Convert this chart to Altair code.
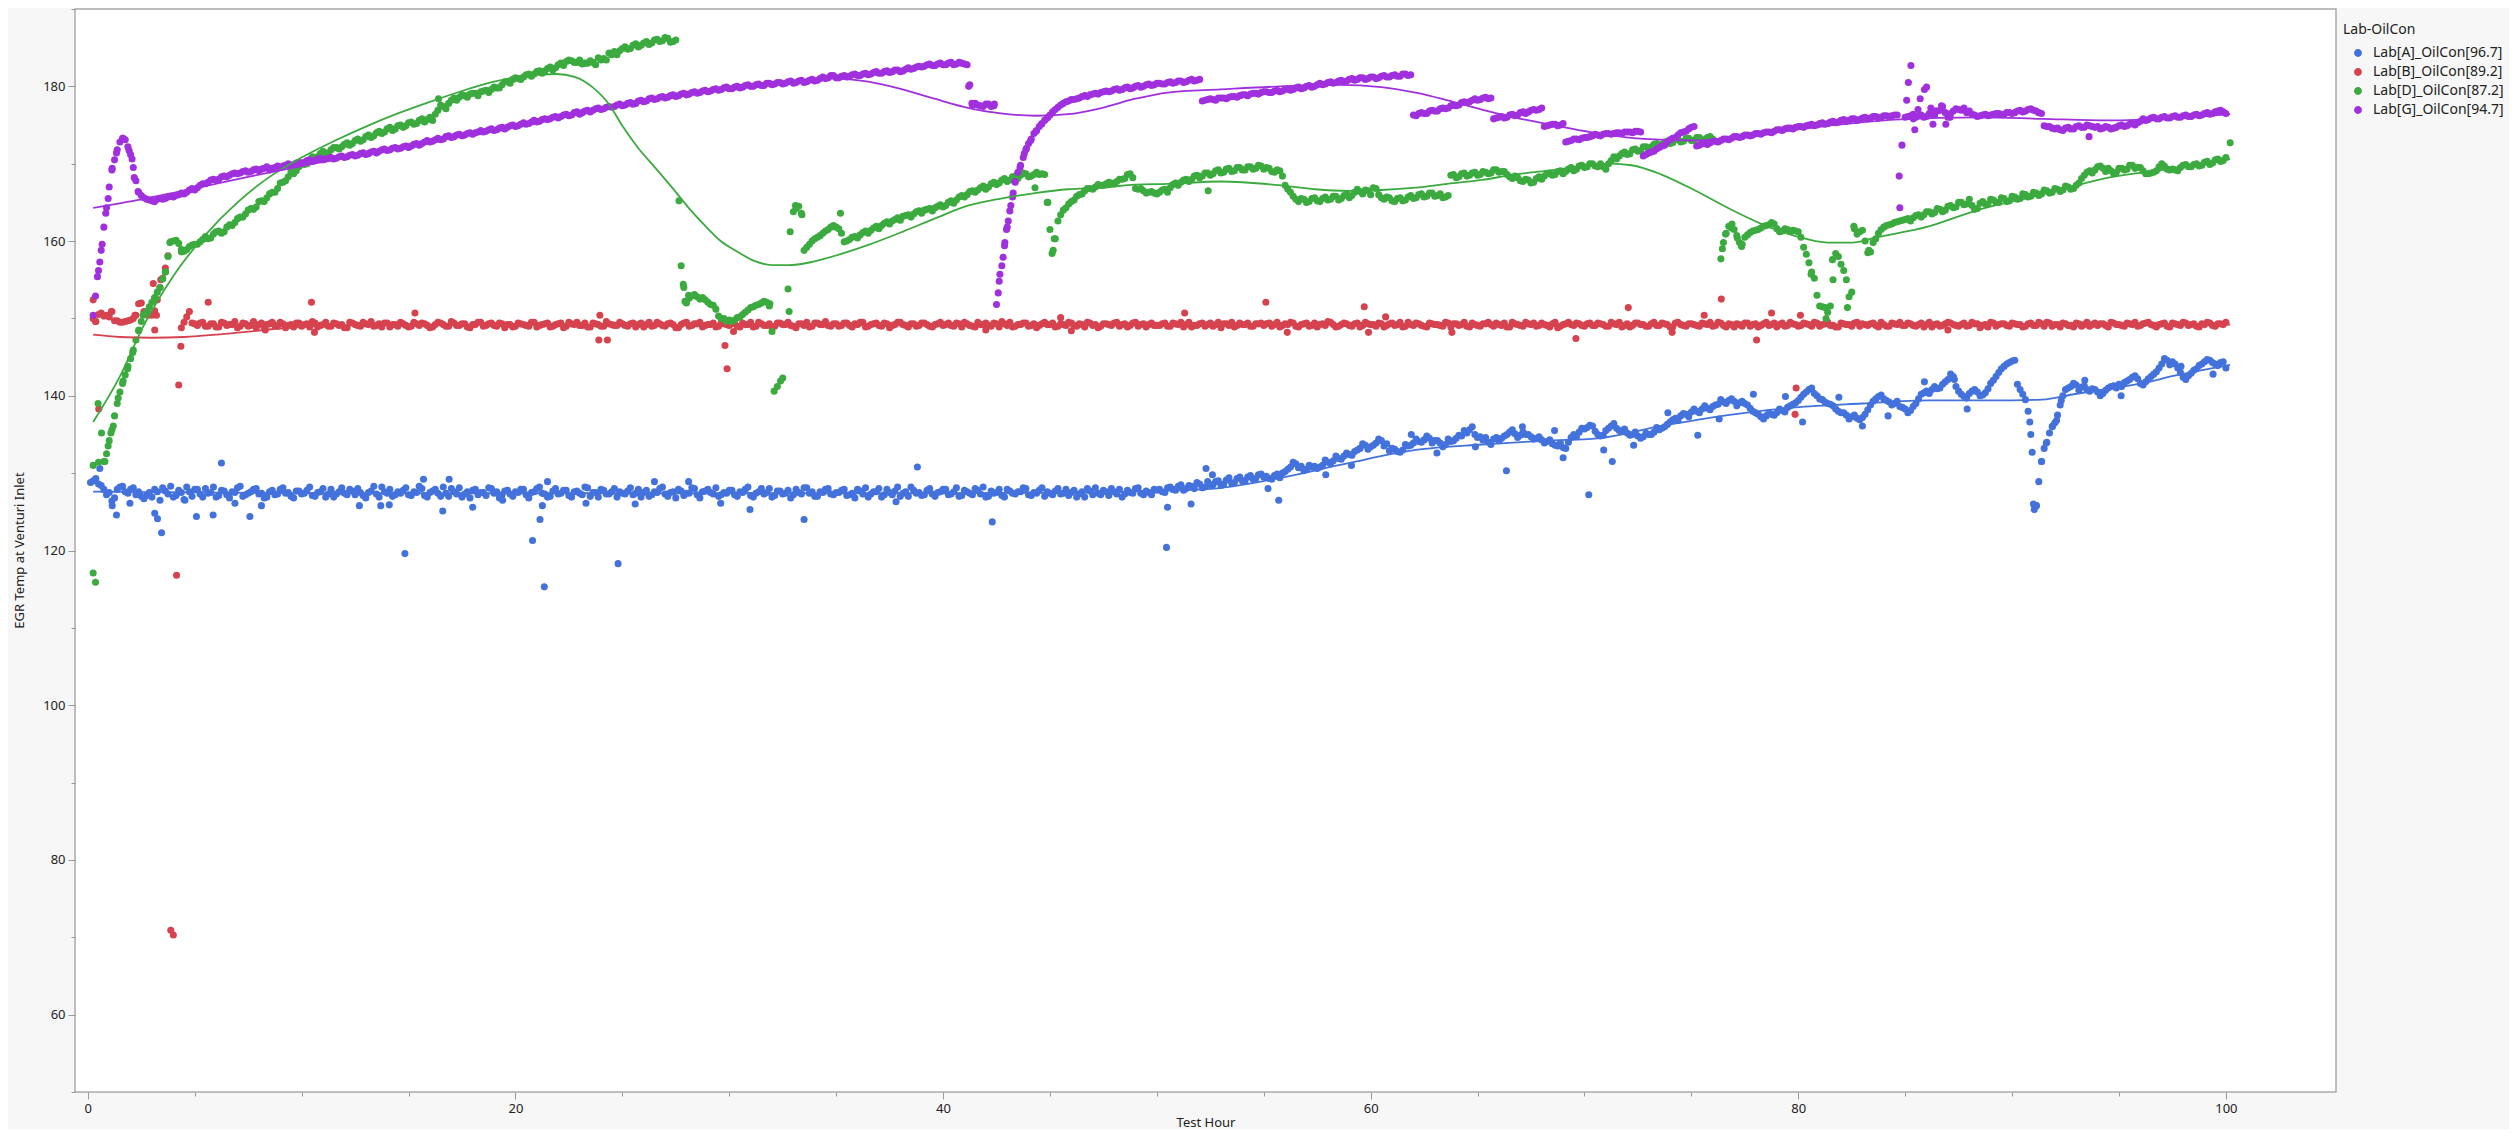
import altair as alt
import pandas as pd

LABELS = ["Lab[A]_OilCon[96.7]", "Lab[B]_OilCon[89.2]", "Lab[D]_OilCon[87.2]", "Lab[G]_OilCon[94.7]"]
COLORS = ["#4472DC", "#D6434F", "#3BAA3F", "#A030DE"]

# sample times of the readings (quarter hours, plus the readings in between)
HOURS = [round(0.25 * (i + 1), 3) for i in range(400)]
HOURS_MID = [round(h - 0.125, 3) for h in HOURS]

# ---------------- Lab A (blue) ----------------
A_VALUES = [
    129.0, 128.6, 127.9, 127.5, 126.8, 128.2, 127.6, 127.9, 127.2, 127.0, 127.1, 126.9, 127.6, 128.1, 127.3, 126.9, 127.8, 126.6, 127.6, 127.9,
    127.3, 128.0, 127.5, 126.9, 127.8, 127.2, 127.6, 128.1, 127.0, 127.4, 127.9, 127.3, 126.8, 127.6, 127.2, 127.9, 127.4, 127.0, 127.7, 127.3,
    127.8, 127.1, 127.5, 128.0, 127.3, 126.9, 127.6, 127.4, 127.9, 127.2, 127.5, 126.8, 127.7, 127.3, 128.2, 127.4, 127.0, 127.6, 127.8, 127.2,
    127.6, 128.3, 127.1, 127.5, 127.9, 127.0, 127.4, 128.0, 127.3, 126.9, 127.6, 127.8, 127.2, 127.5, 128.1, 127.4, 126.8, 127.7, 127.3, 127.6,
    127.9, 127.2, 127.5, 128.0, 127.4, 126.9, 127.7, 127.3, 127.8, 127.1, 127.6, 127.4, 128.2, 127.0, 127.5, 127.9, 127.3, 127.6, 126.9, 127.4,
    127.7, 127.2, 127.9, 127.5, 127.0, 127.6, 128.0, 127.3, 127.5, 126.8, 127.7, 127.4, 128.1, 127.2, 127.6, 127.9, 127.3, 127.0, 127.5, 127.8,
    127.2, 127.6, 127.9, 127.1, 127.4, 128.0, 127.5, 126.9, 127.7, 127.3, 127.8, 127.2, 127.5, 128.1, 127.4, 127.0, 127.6, 127.9, 127.3, 127.5,
    127.8, 127.1, 127.4, 127.9, 127.3, 126.9, 127.6, 128.0, 127.2, 127.5, 127.7, 127.0, 127.6, 128.2, 127.4, 127.1, 127.8, 127.3, 127.5, 127.9,
    127.2, 127.6, 127.0, 127.8, 127.4, 128.0, 127.3, 126.9, 127.7, 127.5, 127.1, 127.9, 127.4, 127.6, 128.1, 127.2, 127.5, 127.8, 127.0, 127.4,
    127.7, 127.3, 127.9, 127.5, 126.9, 127.6, 128.0, 127.2, 127.4, 127.8, 127.1, 127.6, 127.9, 127.3, 127.5, 128.0, 127.4, 127.7, 127.2, 127.8,
    127.6, 128.1, 127.9, 128.3, 127.8, 128.4, 128.0, 128.6, 128.2, 128.5, 128.9, 128.4, 129.1, 128.7, 129.3, 129.0, 129.5, 129.2, 129.8, 129.5,
    129.3, 129.7, 129.4, 130.2, 130.8, 131.2, 130.9, 130.5, 130.8, 130.6, 131.0, 131.4, 131.6, 131.9, 132.2, 132.4, 132.8, 133.2, 133.6, 133.4,
    133.9, 134.2, 133.8, 133.2, 132.8, 133.0, 133.5, 133.9, 134.1, 134.3, 134.5, 134.2, 133.9, 133.7, 134.1, 134.5, 134.8, 135.2, 136.0, 134.6,
    134.3, 134.0, 134.4, 134.2, 134.8, 135.3, 135.1, 134.9, 135.0, 134.7, 134.5, 134.3, 134.1, 133.8, 133.5, 133.3, 134.0, 135.0, 135.3, 135.7,
    136.2, 135.4, 134.8, 135.5, 136.1, 135.8, 135.5, 135.2, 135.0, 134.8, 134.7, 135.0, 135.3, 135.6, 136.0, 136.6, 137.1, 137.4, 137.6, 137.9,
    138.0, 138.3, 138.4, 138.6, 138.9, 139.2, 139.4, 139.3, 139.1, 139.0, 138.4, 137.8, 137.3, 137.4, 137.6, 137.8, 138.1, 138.5, 138.9, 139.4,
    140.2, 140.8, 140.3, 139.6, 139.2, 138.9, 138.3, 137.8, 137.5, 137.3, 137.1, 137.2, 138.2, 139.3, 139.9, 139.6, 139.2, 139.0, 138.6, 138.3,
    138.1, 139.0, 140.2, 140.6, 140.8, 140.9, 141.5, 142.1, 142.5, 140.6, 139.9, 140.3, 140.8, 140.0, 140.4, 141.6, 142.5, 143.5, 144.1, 144.5,
    141.5, 140.2, 138.0, 126.0, 128.9, 133.2, 135.2, 136.5, 138.8, 140.8, 141.2, 141.4, 141.1, 140.8, 140.9, 140.5, 140.3, 141.0, 141.3, 141.5,
    141.7, 142.1, 142.6, 141.6, 141.8, 142.5, 143.1, 144.1, 144.6, 144.4, 143.6, 142.4, 142.6, 143.3, 143.9, 144.4, 144.6, 144.1, 144.3, 143.6,
]
A_VALUES_MID = [
    128.8, 129.3, 128.4, 127.2, 126.4, 127.9, 128.3, 127.4, 128.1, 127.6, 126.7, 127.5, 127.9, 126.5, 127.7, 128.3, 127.1, 127.5, 128.2, 127.0,
    127.9, 126.9, 127.4, 128.2, 127.1, 127.7, 126.8, 127.5, 128.3, 127.2, 127.6, 128.0, 127.4, 126.9, 127.8, 127.3, 128.1, 127.5, 126.8, 127.7,
    127.4, 128.2, 127.0, 127.6, 126.9, 127.9, 127.3, 128.1, 127.2, 127.7, 128.0, 127.1, 127.5, 128.3, 126.9, 127.6, 127.9, 127.2, 127.4, 128.1,
    127.1, 127.5, 128.0, 126.9, 127.7, 127.4, 128.2, 127.0, 127.6, 128.1, 127.3, 126.8, 127.9, 127.5, 127.1, 128.0, 127.6, 127.2, 127.8, 127.0,
    127.5, 127.9, 126.8, 127.6, 128.2, 127.3, 127.0, 128.0, 127.4, 127.8, 126.9, 127.7, 127.2, 128.1, 127.5, 126.9, 127.8, 127.3, 128.0, 127.6,
    127.3, 128.1, 127.4, 126.9, 127.8, 127.2, 127.5, 128.2, 127.0, 127.6, 127.9, 127.1, 127.4, 128.0, 126.8, 127.7, 127.5, 128.1, 127.2, 127.4,
    127.8, 127.0, 127.5, 128.2, 126.9, 127.6, 127.3, 128.0, 127.1, 127.7, 127.4, 126.8, 127.9, 127.3, 128.1, 127.6, 127.0, 127.5, 128.0, 127.2,
    127.5, 127.9, 127.2, 126.8, 127.7, 128.1, 127.3, 127.6, 126.9, 127.9, 127.2, 128.2, 127.4, 127.0, 127.8, 127.5, 127.2, 128.0, 127.0, 127.6,
    127.9, 127.3, 128.1, 127.1, 127.6, 127.2, 127.8, 128.2, 127.0, 127.4, 127.9, 126.9, 127.7, 127.3, 127.6, 128.0, 127.1, 127.4, 128.1, 127.6,
    127.2, 128.0, 127.4, 127.1, 127.8, 127.3, 126.9, 127.7, 128.1, 127.2, 127.6, 128.0, 127.3, 126.9, 127.8, 127.4, 128.1, 127.2, 127.5, 127.9,
    127.9, 127.5, 128.2, 127.8, 128.5, 128.0, 128.3, 128.8, 128.1, 128.9, 128.5, 129.0, 128.6, 129.4, 128.8, 129.5, 129.0, 129.7, 129.3, 129.9,
    129.6, 129.2, 129.9, 130.0, 130.5, 131.4, 130.7, 130.3, 131.0, 130.9, 130.8, 131.7, 131.2, 132.2, 131.8, 132.6, 132.3, 133.0, 133.8, 133.1,
    133.6, 134.4, 133.5, 132.9, 133.1, 132.7, 133.7, 133.6, 134.4, 134.0, 134.8, 133.9, 134.2, 133.4, 134.4, 134.2, 134.9, 135.5, 135.6, 135.0,
    134.7, 134.6, 133.7, 134.6, 134.5, 135.0, 135.6, 134.6, 135.3, 135.0, 134.4, 134.7, 133.9, 134.3, 133.6, 133.9, 133.2, 134.6, 134.7, 135.8,
    135.9, 136.1, 135.0, 134.9, 135.8, 136.4, 135.5, 135.7, 134.9, 135.3, 134.5, 135.2, 135.0, 135.9, 135.8, 136.3, 136.9, 136.8, 137.7, 137.3,
    138.3, 137.8, 138.7, 138.2, 138.8, 139.5, 139.0, 139.6, 138.7, 139.3, 138.8, 138.0, 137.6, 137.0, 137.8, 137.5, 138.3, 137.9, 138.7, 139.1,
    139.8, 140.5, 141.0, 140.0, 139.5, 139.0, 138.7, 138.0, 137.8, 137.0, 137.5, 136.9, 137.6, 138.8, 139.6, 140.1, 139.4, 138.8, 139.3, 138.5,
    137.8, 138.6, 139.6, 140.4, 140.3, 141.2, 141.0, 141.8, 142.8, 141.2, 140.2, 139.7, 140.6, 140.5, 140.1, 140.9, 142.0, 143.0, 143.8, 144.3,
    144.6, 140.8, 139.5, 135.0, 125.8, 131.5, 134.0, 136.0, 137.5, 140.0, 141.0, 141.6, 140.7, 141.3, 140.6, 140.8, 140.0, 140.7, 141.2, 141.0,
    141.2, 141.9, 142.4, 142.2, 141.4, 142.2, 142.8, 143.6, 144.8, 144.0, 144.1, 143.0, 142.1, 142.9, 143.5, 144.1, 144.7, 144.3, 143.9, 144.4,
]
A_EXTRA_H = [0.56, 1.14, 1.34, 1.97, 3.13, 3.26, 3.45, 4.54, 5.08, 5.86, 6.25, 6.88, 7.58, 8.12, 12.7, 13.7, 14.1, 14.83, 15.7, 16.6,
             16.9, 18.0, 19.4, 20.8, 21.15, 21.26, 21.35, 21.5, 23.3, 24.8, 25.6, 26.5, 28.1, 29.6, 30.97, 33.5, 37.8, 38.8, 42.3, 50.45,
             50.5, 51.6, 52.3, 52.6, 55.2, 55.7, 57.9, 59.1, 61.9, 63.1, 64.9, 66.35, 67.1, 68.6, 69.0, 70.2, 70.9, 71.3, 72.3, 73.9,
             75.3, 76.3, 77.9, 79.4, 80.2, 81.9, 83.0, 84.2, 85.9, 87.3, 87.9, 90.83, 90.94, 91.04, 91.14, 91.38, 91.6, 91.9, 92.08, 92.3,
             93.4, 95.1, 97.9, 99.4]
A_EXTRA_V = [130.6, 125.8, 124.6, 126.1, 124.8, 124.1, 122.3, 126.5, 124.4, 124.6, 131.3, 126.1, 124.4, 125.8, 125.8, 125.8, 125.9, 119.6, 129.2, 125.1,
             129.2, 125.6, 126.5, 121.3, 124.0, 125.8, 115.3, 128.9, 126.1, 118.3, 126.0, 128.9, 128.9, 126.1, 125.3, 124.0, 126.3, 130.8, 123.7, 120.4,
             125.6, 126.0, 130.6, 129.8, 128.0, 126.5, 129.8, 131.0, 135.0, 132.6, 133.4, 130.3, 136.0, 135.5, 132.0, 127.2, 133.0, 131.5, 133.6, 137.8,
             134.9, 137.0, 140.2, 139.9, 136.6, 139.8, 136.1, 137.4, 141.8, 142.1, 138.3, 136.6, 132.7, 125.3, 125.8, 131.5, 133.9, 136.1, 136.8, 139.4,
             142.0, 140.0, 143.8, 142.8]

# ---------------- Lab B (red) ----------------
B_VALUES = [
    150.0, 150.5, 150.3, 150.2, 149.7, 149.5, 149.6, 149.8, 150.4, 152.0, 150.9, 150.4, 152.4, 155.2, 158.1, 70.3, 141.4, 149.5, 150.9, 149.3,
    149.4, 149.0, 149.3, 148.9, 149.5, 149.1, 149.2, 148.8, 149.4, 149.0, 149.6, 149.2, 148.9, 149.3, 149.1, 149.5, 148.8, 149.2, 149.4, 149.0,
    149.3, 149.6, 148.9, 149.2, 149.0, 149.4, 149.1, 148.8, 149.5, 149.2, 149.0, 149.3, 149.6, 149.1, 148.9, 149.4, 149.2, 149.0, 149.3, 148.9,
    149.5, 149.1, 149.3, 148.8, 149.2, 149.4, 149.0, 149.6, 149.1, 149.3, 148.9, 149.2, 149.5, 149.0, 149.3, 149.1, 149.4, 148.8, 149.2, 149.0,
    149.3, 149.1, 149.5, 148.9, 149.2, 149.4, 149.0, 149.3, 148.8, 149.5, 149.2, 149.1, 149.4, 148.9, 149.3, 149.0, 149.6, 149.2, 149.1, 149.3,
    149.0, 149.4, 149.2, 148.9, 149.5, 149.1, 149.3, 149.0, 149.4, 148.8, 149.2, 149.5, 149.1, 149.3, 148.9, 149.2, 149.4, 149.0, 149.3, 149.1,
    149.4, 148.9, 149.2, 149.5, 149.0, 149.3, 149.1, 148.8, 149.4, 149.2, 149.5, 149.0, 149.3, 149.1, 148.9, 149.4, 149.2, 149.6, 149.0, 149.3,
    149.1, 149.4, 148.9, 149.2, 149.5, 149.0, 149.3, 149.1, 149.4, 148.8, 149.2, 149.5, 149.1, 149.3, 149.0, 149.4, 149.2, 148.9, 149.3, 149.1,
    149.4, 149.0, 149.3, 149.5, 149.1, 148.9, 149.2, 149.4, 149.0, 149.3, 149.6, 149.1, 148.9, 149.2, 149.4, 149.0, 149.3, 149.1, 149.5, 149.2,
    148.9, 149.3, 149.1, 149.4, 149.0, 149.2, 149.5, 149.1, 148.8, 149.3, 149.2, 149.4, 149.0, 149.3, 149.1, 149.5, 149.2, 148.9, 149.4, 149.1,
    149.3, 149.0, 149.4, 149.2, 148.9, 149.5, 149.1, 149.3, 149.0, 149.4, 149.2, 148.8, 149.3, 149.5, 149.1, 149.2, 149.4, 149.0, 149.3, 149.1,
    149.4, 149.2, 148.9, 149.3, 149.5, 149.0, 149.2, 149.4, 149.1, 148.9, 149.3, 149.6, 149.2, 149.0, 149.4, 149.1, 149.3, 148.9, 149.5, 149.2,
    149.0, 149.3, 149.1, 149.4, 149.2, 148.9, 149.5, 149.1, 149.3, 149.0, 149.4, 149.2, 149.1, 149.5, 148.9, 149.3, 149.2, 149.0, 149.4, 149.1,
    149.3, 149.5, 149.0, 149.2, 149.4, 148.9, 149.3, 149.1, 149.5, 149.2, 149.0, 149.4, 149.1, 149.3, 148.8, 149.2, 149.5, 149.1, 149.3, 149.0,
    149.4, 149.1, 149.3, 149.0, 149.5, 149.2, 148.9, 149.3, 149.1, 149.4, 149.2, 149.0, 149.5, 149.1, 149.3, 148.9, 149.4, 149.2, 149.0, 149.3,
    149.1, 149.4, 149.2, 149.0, 149.5, 149.1, 149.3, 148.9, 149.2, 149.4, 149.0, 149.3, 149.1, 149.5, 149.2, 148.9, 149.4, 149.1, 149.3, 149.0,
    149.4, 149.2, 149.5, 149.0, 149.3, 149.1, 148.9, 149.4, 149.2, 149.0, 149.5, 149.3, 149.1, 149.4, 148.9, 149.2, 149.0, 149.3, 149.5, 149.1,
    149.3, 149.0, 149.4, 149.2, 148.9, 149.3, 149.1, 149.5, 149.2, 149.0, 149.4, 149.1, 149.3, 148.8, 149.2, 149.5, 149.0, 149.3, 149.1, 149.4,
    149.2, 148.9, 149.3, 149.1, 149.5, 149.0, 149.4, 149.2, 148.9, 149.3, 149.1, 149.4, 149.0, 149.5, 149.2, 149.1, 149.3, 148.9, 149.4, 149.2,
    149.0, 149.3, 149.5, 149.1, 149.4, 149.2, 148.9, 149.3, 149.0, 149.4, 149.2, 149.5, 149.1, 149.3, 148.9, 149.2, 149.4, 149.0, 149.3, 149.5,
]
B_VALUES_MID = [
    None, 149.6, 150.7, 150.4, 150.9, 149.7, 149.5, 149.7, 150.0, 151.9, 150.9, 150.6, 151.0, 154.0, 156.5, None, None, 148.8, 150.2, 149.4,
    149.1, 149.5, 149.0, 149.3, 148.9, 149.4, 149.2, 149.6, 149.0, 149.3, 149.1, 148.8, 149.4, 149.2, 149.5, 149.0, 149.3, 149.1, 148.9, 149.4,
    149.2, 148.9, 149.4, 149.1, 149.5, 149.0, 149.3, 149.2, 148.8, 149.4, 149.1, 149.5, 149.2, 149.0, 149.3, 149.4, 148.9, 149.2, 149.5, 149.1,
    149.0, 149.3, 149.4, 149.1, 148.9, 149.5, 149.2, 149.0, 149.4, 149.1, 149.3, 148.8, 149.2, 149.5, 149.1, 149.4, 149.0, 149.3, 149.2, 148.9,
    149.4, 149.2, 149.0, 149.5, 149.1, 149.3, 148.9, 149.2, 149.4, 149.0, 149.3, 149.5, 149.1, 148.9, 149.4, 149.2, 149.0, 149.3, 149.1, 149.5,
    149.1, 149.3, 148.9, 149.4, 149.2, 149.0, 149.5, 149.1, 149.3, 149.2, 148.8, 149.4, 149.0, 149.3, 149.5, 149.1, 149.2, 148.9, 149.4, 149.2,
    149.3, 149.0, 149.4, 149.2, 148.9, 149.5, 149.1, 149.3, 149.0, 149.4, 149.2, 149.1, 148.8, 149.3, 149.5, 149.0, 149.4, 149.2, 149.1, 149.3,
    149.0, 149.4, 149.1, 149.3, 149.5, 148.9, 149.2, 149.4, 149.0, 149.3, 149.1, 149.5, 149.2, 148.9, 149.3, 149.1, 149.4, 149.0, 149.2, 149.5,
    149.2, 149.1, 149.4, 148.9, 149.3, 149.0, 149.5, 149.2, 149.1, 149.4, 148.9, 149.3, 149.5, 149.0, 149.2, 149.4, 149.1, 148.8, 149.3, 149.2,
    149.4, 149.0, 149.2, 149.5, 149.1, 149.3, 148.9, 149.4, 149.2, 149.0, 149.3, 149.1, 149.5, 149.2, 148.9, 149.4, 149.0, 149.3, 149.2, 149.1,
    149.1, 149.4, 149.0, 149.3, 149.5, 149.2, 148.9, 149.1, 149.4, 149.2, 149.0, 149.5, 149.3, 149.1, 148.9, 149.4, 149.2, 149.0, 149.3, 149.4,
    149.3, 149.0, 149.5, 149.1, 149.2, 149.4, 148.9, 149.3, 149.0, 149.4, 149.2, 149.1, 149.5, 148.9, 149.2, 149.3, 149.0, 149.4, 149.1, 149.3,
    149.2, 149.4, 148.9, 149.3, 149.1, 149.5, 149.0, 149.2, 149.4, 149.1, 148.9, 149.3, 149.2, 149.0, 149.4, 149.3, 149.1, 149.5, 148.9, 149.2,
    149.0, 149.3, 149.2, 149.4, 149.1, 148.9, 149.5, 149.2, 149.0, 149.3, 149.4, 149.1, 149.2, 148.9, 149.5, 149.0, 149.3, 149.2, 149.4, 149.1,
    149.3, 149.1, 149.4, 149.2, 149.0, 149.3, 149.5, 149.1, 148.9, 149.4, 149.2, 149.0, 149.3, 149.1, 149.4, 149.2, 148.9, 149.5, 149.1, 149.3,
    149.2, 149.0, 149.3, 149.5, 149.1, 149.4, 148.9, 149.2, 149.3, 149.0, 149.4, 149.2, 148.9, 149.3, 149.1, 149.4, 149.2, 149.0, 149.5, 149.2,
    149.1, 149.3, 149.0, 149.4, 149.2, 149.5, 149.1, 148.9, 149.3, 149.2, 149.4, 149.0, 149.2, 149.3, 149.1, 149.5, 149.0, 149.4, 149.2, 149.1,
    149.4, 149.1, 149.2, 148.9, 149.5, 149.2, 149.0, 149.3, 149.4, 149.1, 149.2, 149.0, 149.5, 149.3, 149.1, 148.9, 149.4, 149.2, 149.3, 149.0,
    149.3, 149.2, 149.0, 149.4, 149.1, 149.3, 149.5, 149.0, 149.2, 149.4, 149.1, 148.9, 149.3, 149.2, 149.0, 149.4, 149.3, 149.1, 149.5, 149.2,
    149.1, 149.4, 149.2, 149.0, 149.3, 149.5, 149.1, 149.2, 149.4, 148.9, 149.3, 149.1, 149.4, 149.2, 149.0, 149.3, 149.5, 149.1, 149.3, 149.2,
]
B_EXTRA_H = [0.25, 0.36, 0.51, 1.1, 2.2, 2.82, 3.06, 3.13, 3.21, 3.41, 3.88, 4.15, 4.35,
             5.63, 8.3, 10.46, 10.6, 15.3, 23.9, 23.95, 24.3, 29.8, 29.9, 30.2, 42.0, 45.5, 46.0, 51.3, 55.1, 56.1, 59.7,
             59.9, 60.7, 63.8, 69.6, 72.05, 74.1, 75.6, 76.4, 78.05, 78.75, 79.85, 79.9, 80.1, 87.0]
B_EXTRA_V = [152.4, 149.6, 138.3, 150.9, 150.4, 150.4, 154.5, 148.5, 150.4, 155.0, 70.9, 116.8, 146.4,
             152.1, 148.5, 152.1, 148.2, 150.7, 147.2, 150.4, 147.2, 146.5, 143.5, 148.3, 148.5, 150.1, 148.4, 150.7, 152.1, 148.2, 151.5,
             148.2, 150.2, 148.2, 147.4, 151.4, 148.2, 150.4, 152.5, 147.2, 150.7, 137.6, 141.0, 150.4, 148.5]

# ---------------- Lab D (green) ----------------
D_VALUES = [
    131.0, 131.4, 131.5, 134.2, 137.4, 140.5, 142.7, 144.8, 147.2, 149.6, 150.9, 152.1, 153.4, 155.1, 158.0, 160.0, 159.7, 158.7, 159.3, 159.6,
    159.9, 160.6, 160.4, 161.2, 161.0, 161.8, 162.0, 162.9, 163.1, 164.0, 164.1, 165.1, 165.1, 166.1, 166.3, 167.5, 167.8, 169.0, 169.1, 170.0,
    170.0, 170.9, 170.9, 171.6, 171.4, 172.1, 171.9, 172.5, 172.4, 173.0, 172.9, 173.5, 173.4, 174.0, 173.9, 174.5, 174.3, 174.9, 174.7, 175.3,
    175.1, 175.6, 175.4, 176.0, 176.4, 177.6, 177.1, 178.2, 178.2, 178.9, 178.6, 179.1, 178.8, 179.4, 179.2, 179.9, 179.8, 180.6, 180.4, 181.1,
    180.9, 181.5, 181.3, 181.9, 181.7, 182.3, 182.1, 182.8, 182.7, 183.4, 183.1, 183.4, 183.0, 183.3, 182.8, 183.4, 183.4, 184.1, 184.1, 184.9,
    184.8, 185.3, 185.1, 185.6, 185.4, 186.0, 185.8, 186.3, 185.7, 186.0, 156.8, 152.0, 152.9, 152.8, 152.7, 152.1, 151.7, 150.3, 150.0, 149.8,
    149.8, 150.2, 150.8, 151.4, 151.7, 152.0, 152.1, 148.3, 141.2, 142.3, 153.8, 163.8, 164.5, 158.8, 159.6, 160.3, 160.7, 161.3, 161.8, 161.8,
    161.0, 160.0, 160.5, 160.4, 161.1, 161.0, 161.7, 161.6, 162.3, 162.2, 162.8, 162.7, 163.3, 163.1, 163.8, 163.6, 164.1, 163.9, 164.5, 164.4,
    165.0, 164.9, 165.7, 165.7, 166.4, 166.3, 166.9, 166.7, 167.4, 167.3, 167.9, 167.7, 168.3, 168.1, 168.8, 168.3, 168.6, 168.6, 168.6, 161.5,
    160.3, 163.4, 164.3, 165.1, 165.8, 166.1, 166.8, 166.7, 167.3, 167.2, 167.6, 167.4, 168.0, 168.1, 168.7, 166.8, 166.8, 166.2, 166.4, 166.1,
    166.6, 166.3, 167.3, 167.2, 167.9, 167.7, 168.4, 168.2, 168.8, 168.5, 169.1, 168.8, 169.3, 169.0, 169.5, 169.2, 169.6, 169.3, 169.8, 169.3,
    169.4, 168.9, 169.1, 167.2, 166.3, 165.4, 165.5, 165.0, 165.5, 165.2, 165.5, 165.3, 165.8, 165.3, 165.9, 165.6, 166.3, 166.4, 166.6, 166.0,
    166.8, 165.6, 165.7, 165.2, 165.5, 165.2, 165.7, 165.5, 166.0, 165.7, 166.2, 165.8, 166.1, 165.7, 168.5, 168.2, 168.7, 168.4, 168.8, 168.5,
    169.0, 168.7, 169.2, 168.9, 169.0, 168.3, 168.4, 167.8, 168.0, 167.5, 168.1, 168.0, 168.7, 168.5, 169.0, 168.7, 169.3, 169.1, 169.7, 169.5,
    170.0, 169.7, 170.0, 169.3, 170.4, 170.6, 171.3, 171.2, 171.8, 171.6, 172.2, 171.9, 172.5, 172.3, 172.8, 172.6, 173.1, 172.8, 173.3, 173.0,
    173.4, 173.1, 173.4, 173.2, None, 159.8, 161.9, 161.5, 159.8, 160.5, 161.1, 161.4, 161.7, 162.0, 162.4, 161.6, 161.3, 161.5, 161.4, 161.2,
    159.2, 157.2, 155.2, 151.6, 151.4, 151.6, 158.4, 157.0, 155.0, 153.4, 160.9, 161.4, 158.5, 159.8, 161.0, 161.8, 162.1, 162.4, 162.6, 162.8,
    162.6, 163.3, 163.1, 163.8, 163.5, 164.2, 163.8, 164.5, 164.3, 165.0, 164.7, 165.4, 164.1, 164.9, 164.8, 165.4, 165.0, 165.6, 165.1, 165.8,
    165.4, 166.1, 165.7, 166.3, 165.9, 166.6, 166.2, 166.8, 166.4, 167.1, 166.7, 167.2, 168.1, 168.9, 168.8, 169.6, 169.4, 169.4, 168.7, 169.4,
    169.2, 169.8, 169.4, 169.5, 168.7, 168.8, 169.1, 170.0, 169.3, 169.3, 169.1, 169.8, 169.6, 169.9, 169.7, 170.2, 169.9, 170.5, 170.3, 170.8,
]
D_VALUES_MID = [
    None, None, None, 132.5, 135.6, 139.0, 141.6, 143.8, 145.9, 148.4, 150.5, 151.5, 152.7, 154.0, 156.0, 159.9, 160.1, 158.9, 158.9, 159.5,
    159.6, 160.2, 160.3, 160.9, 161.3, 161.2, 162.1, 162.4, 163.1, 163.5, 164.2, 164.4, 165.2, 165.6, 166.3, 166.8, 167.6, 168.3, 168.7, 169.6,
    169.9, 170.5, 170.8, 171.3, 171.2, 171.8, 172.1, 172.2, 172.7, 172.6, 173.2, 173.1, 173.7, 173.6, 174.2, 174.1, 174.7, 174.5, 175.0, 174.9,
    175.4, 175.2, 175.8, 175.7, 175.6, 176.9, 177.4, 177.8, 178.5, 178.6, 178.8, 179.0, 179.1, 179.3, 179.5, 179.6, 179.8, 180.2, 180.6, 180.9,
    181.0, 181.2, 181.6, 181.6, 182.0, 182.0, 182.5, 182.4, 183.0, 183.2, 183.3, 183.1, 182.9, 183.0, 183.1, 183.7, 183.6, 184.3, 184.5, 184.6,
    185.1, 184.9, 185.5, 185.3, 185.8, 185.6, 186.1, 185.9, 186.2, 185.8, None, 154.0, 152.6, 153.1, 152.5, 152.4, 151.8, 151.2, 150.0, 149.6,
    149.5, 150.1, 150.5, 151.1, 151.5, 151.8, 152.2, 151.6, None, None, None, None, 164.2, 163.6, 159.2, 160.0, 160.5, 161.0, 161.5, 162.0,
    161.6, 159.9, 160.2, 160.6, 160.8, 161.3, 161.4, 161.9, 162.0, 162.5, 162.6, 163.0, 163.2, 163.4, 163.5, 163.9, 164.0, 164.2, 164.3, 164.7,
    164.6, 165.2, 165.3, 165.9, 166.0, 166.5, 166.6, 167.1, 167.0, 167.6, 167.5, 168.1, 167.9, 168.4, 168.5, 168.7, 168.4, 168.9, 168.7, 165.0,
    None, 162.6, 164.0, 164.8, 165.3, 166.0, 166.5, 166.8, 167.0, 167.2, 167.4, 167.5, 167.7, 168.0, 168.6, 168.2, 166.7, 166.5, 166.3, 166.2,
    166.3, 166.7, 166.9, 167.5, 167.6, 168.0, 168.0, 168.5, 168.4, 168.8, 168.7, 169.2, 168.9, 169.4, 169.1, 169.5, 169.2, 169.6, 169.4, 169.7,
    169.5, 169.0, 169.2, 168.4, 166.7, 165.8, 165.1, 165.4, 165.1, 165.6, 165.1, 165.7, 165.4, 165.8, 165.5, 166.1, 165.9, 166.7, 166.1, 166.5,
    166.9, 166.0, 165.4, 165.6, 165.1, 165.6, 165.3, 165.9, 165.6, 166.1, 165.8, 166.2, 165.9, 165.6, 165.9, 168.6, 168.3, 168.8, 168.5, 168.9,
    168.6, 168.9, 168.8, 169.2, 169.0, 168.6, 168.1, 168.2, 167.7, 167.9, 167.6, 168.3, 168.4, 168.8, 168.6, 169.1, 169.0, 169.5, 169.3, 169.8,
    169.6, 170.0, 169.6, 169.6, 170.0, 170.9, 171.0, 171.5, 171.3, 171.9, 171.7, 172.2, 172.2, 172.6, 172.5, 172.9, 172.7, 173.1, 172.9, 173.3,
    173.0, 173.4, 173.1, 173.5, None, None, 161.0, 161.7, 160.7, 159.6, 160.8, 161.3, 161.5, 161.9, 162.1, 162.2, 161.2, 161.6, 161.2, 161.3,
    160.5, 158.3, 156.0, 153.0, 151.5, 150.8, 155.0, 158.0, 156.2, 152.8, 161.6, 161.2, 160.0, 158.6, 160.3, 161.5, 162.0, 162.2, 162.5, 162.7,
    162.9, 163.0, 163.4, 163.4, 163.8, 163.7, 164.1, 164.0, 164.6, 164.4, 165.0, 164.8, 164.6, 164.2, 165.1, 164.8, 165.3, 165.0, 165.5, 165.2,
    165.7, 165.5, 166.0, 165.8, 166.2, 166.1, 166.5, 166.3, 166.7, 166.6, 167.0, 166.8, 167.5, 168.5, 169.1, 169.2, 169.7, 169.0, 169.1, 168.9,
    169.4, 169.3, 169.8, 169.5, 169.1, 168.7, 168.9, 169.6, 169.7, 169.2, 169.2, 169.5, 169.9, 169.6, 170.0, 169.8, 170.3, 170.1, 170.6, 170.4,
]
D_EXTRA_H = [0.25, 0.36, 0.48, 0.64, 0.8, 0.95, 1.08, 1.19, 1.42, 1.65, 1.86, 2.1, 2.39, 2.59, 3.13, 3.63, 3.84, 4.38,
             16.4, 27.65, 27.85, 27.93, 28.1, 31.9, 32.1, 32.4, 32.8, 32.85, 33.1, 33.4, 35.2,
             44.3, 44.9, 45.1, 45.2, 45.15, 52.4, 76.38, 76.45, 76.6, 76.9, 77.15, 77.35,
             80.6, 81.3, 81.6, 82.3, 82.6, 83.3, 100.2]
D_EXTRA_V = [117.1, 115.9, 139.0, 135.2, 131.5, 133.5, 135.2, 136.1, 139.7, 141.9, 143.5, 145.6, 148.5, 150.4, 152.6, 156.0, 159.8, 158.6,
             178.4, 165.2, 154.4, 152.2, 153.0, 151.9, 140.6, 141.9, 150.9, 161.2, 164.6, 163.4, 163.6,
             166.9, 165.0, 158.4, 160.3, 158.8, 166.5, 157.7, 159.0, 160.9, 162.2, 160.4, 159.3,
             155.7, 150.0, 157.6, 151.4, 161.9, 158.8, 172.7]

# ---------------- Lab G (purple) ----------------
G_VALUES = [
    150.4, 156.2, 161.8, 167.0, 170.5, 172.8, 173.1, 171.2, 167.8, 165.9, 165.4, 165.2, 165.4, 165.4, 165.7, 165.7, 166.0, 166.1, 166.6, 166.6,
    167.2, 167.4, 167.9, 167.9, 168.3, 168.3, 168.7, 168.7, 169.0, 168.9, 169.2, 169.1, 169.4, 169.2, 169.5, 169.5, 169.8, 169.8, 170.1, 170.1,
    170.4, 170.3, 170.6, 170.5, 170.7, 170.6, 170.9, 170.8, 171.1, 171.0, 171.3, 171.2, 171.5, 171.4, 171.8, 171.7, 172.0, 171.9, 172.2, 172.1,
    172.5, 172.4, 172.8, 172.8, 173.1, 173.1, 173.5, 173.4, 173.7, 173.6, 173.9, 173.8, 174.1, 174.1, 174.4, 174.3, 174.6, 174.5, 174.9, 174.8,
    175.1, 175.1, 175.4, 175.4, 175.7, 175.7, 176.0, 175.9, 176.3, 176.2, 176.6, 176.4, 176.8, 176.7, 177.1, 177.0, 177.3, 177.3, 177.6, 177.5,
    177.8, 177.7, 178.1, 178.0, 178.4, 178.3, 178.6, 178.5, 178.8, 178.7, 179.0, 178.9, 179.2, 179.1, 179.4, 179.3, 179.6, 179.5, 179.8, 179.7,
    179.9, 179.8, 180.1, 180.0, 180.2, 180.1, 180.4, 180.2, 180.5, 180.3, 180.6, 180.4, 180.7, 180.5, 180.8, 180.7, 181.0, 181.0, 181.4, 181.1,
    181.3, 181.2, 181.5, 181.4, 181.6, 181.5, 181.8, 181.7, 181.9, 181.8, 182.1, 181.9, 182.2, 182.2, 182.5, 182.5, 182.8, 182.7, 182.9, 182.8,
    183.0, 182.8, 183.1, 182.9, 180.2, 177.8, 177.5, 177.7, 177.4, 151.8, 156.8, 161.8, 165.7, 168.9, 170.8, 172.6, 173.9, 174.8, 175.6, 176.3,
    177.0, 177.6, 178.0, 178.3, 178.4, 178.7, 178.7, 179.0, 179.0, 179.3, 179.3, 179.6, 179.5, 179.8, 179.7, 180.0, 179.9, 180.2, 180.1, 180.4,
    180.3, 180.5, 180.4, 180.7, 180.5, 180.8, 180.7, 180.9, 178.2, 178.4, 178.2, 178.5, 178.4, 178.7, 178.6, 178.9, 178.8, 179.1, 179.0, 179.3,
    179.2, 179.4, 179.3, 179.6, 179.5, 179.8, 179.7, 180.0, 179.9, 180.2, 180.2, 180.5, 180.4, 180.7, 180.6, 180.9, 180.8, 181.1, 180.9, 181.2,
    181.0, 181.3, 181.2, 181.4, 181.3, 181.6, 181.4, 176.3, 176.5, 176.5, 176.8, 176.8, 177.1, 177.1, 177.5, 177.5, 177.9, 177.9, 178.2, 178.2,
    178.5, 178.4, 175.8, 176.0, 175.9, 176.3, 176.2, 176.6, 176.5, 176.9, 176.9, 177.2, 174.9, 175.1, 174.9, 175.2, 172.9, 173.2, 173.1, 173.4,
    173.5, 173.8, 173.6, 173.9, 173.8, 174.0, 173.9, 174.1, 174.0, 174.2, 171.0, 171.4, 171.6, 172.1, 172.4, 173.1, 173.4, 174.0, 174.2, 174.7,
    172.3, 172.6, 172.5, 172.9, 172.8, 173.2, 173.1, 173.5, 173.4, 173.7, 173.6, 173.9, 173.8, 174.1, 174.0, 174.4, 174.3, 174.6, 174.5, 174.8,
    174.7, 175.0, 174.9, 175.2, 175.1, 175.4, 175.3, 175.6, 175.5, 175.8, 175.6, 175.9, 175.8, 176.1, 175.9, 176.2, 176.1, 176.3, 164.3, 176.0,
    176.2, 176.0, 176.3, 176.1, 176.4, 176.8, 177.4, 176.0, 176.8, 177.0, 177.2, 176.8, 176.3, 176.2, 176.4, 176.3, 176.5, 176.4, 176.6, 176.5,
    176.8, 176.7, 177.0, 176.9, 176.6, 174.9, 174.8, 174.5, 174.4, 174.6, 174.5, 174.8, 174.7, 175.0, 174.8, 174.8, 174.6, 174.7, 174.6, 174.9,
    174.8, 175.1, 175.0, 175.5, 175.6, 175.9, 175.8, 176.0, 175.9, 176.1, 176.0, 176.2, 176.1, 176.3, 176.2, 176.5, 176.4, 176.7, 176.9, 176.5,
]
G_VALUES_MID = [
    None, None, 158.8, 164.3, 169.2, 171.8, 173.3, 172.2, 169.5, 166.3, 165.6, 165.3, 165.1, 165.5, 165.5, 165.8, 165.9, 166.2, 166.3, 166.8,
    166.9, 167.4, 167.6, 168.0, 168.0, 168.4, 168.5, 168.8, 168.8, 169.1, 169.0, 169.3, 169.3, 169.6, 169.4, 169.7, 169.7, 170.0, 169.9, 170.2,
    170.2, 170.5, 170.4, 170.7, 170.6, 170.8, 170.7, 171.0, 170.9, 171.2, 171.1, 171.4, 171.3, 171.6, 171.6, 171.9, 171.8, 172.1, 172.0, 172.3,
    172.3, 172.6, 172.6, 173.0, 172.9, 173.3, 173.2, 173.6, 173.5, 173.8, 173.7, 174.0, 174.0, 174.3, 174.2, 174.5, 174.4, 174.7, 174.7, 175.0,
    174.9, 175.3, 175.2, 175.6, 175.5, 175.8, 175.8, 176.1, 176.1, 176.4, 176.3, 176.7, 176.6, 176.9, 176.9, 177.2, 177.1, 177.4, 177.4, 177.7,
    177.6, 177.9, 177.8, 178.2, 178.1, 178.5, 178.4, 178.7, 178.6, 178.9, 178.8, 179.1, 179.0, 179.3, 179.2, 179.5, 179.4, 179.7, 179.6, 179.9,
    179.7, 180.0, 179.9, 180.2, 180.0, 180.3, 180.1, 180.4, 180.3, 180.5, 180.4, 180.7, 180.5, 180.8, 180.6, 180.9, 180.8, 181.2, 181.1, 181.4,
    181.1, 181.4, 181.3, 181.6, 181.4, 181.7, 181.6, 181.9, 181.7, 182.0, 181.9, 182.1, 182.0, 182.4, 182.3, 182.6, 182.6, 182.9, 182.7, 183.0,
    182.8, 183.1, 182.9, 183.0, 182.8, 177.6, 177.6, 177.4, 177.7, 177.5, 154.8, 159.4, 163.9, 167.6, 169.8, 171.8, 173.2, 174.3, 175.2, 175.9,
    176.7, 177.3, 177.8, 178.1, 178.3, 178.5, 178.8, 178.9, 179.1, 179.2, 179.4, 179.4, 179.7, 179.6, 179.9, 179.8, 180.1, 180.0, 180.3, 180.2,
    180.4, 180.3, 180.6, 180.5, 180.7, 180.6, 180.9, 180.8, 178.1, 178.3, 178.3, 178.5, 178.5, 178.6, 178.7, 178.8, 178.9, 179.0, 179.1, 179.2,
    179.3, 179.2, 179.5, 179.4, 179.7, 179.6, 179.9, 179.8, 180.1, 180.0, 180.4, 180.3, 180.6, 180.5, 180.8, 180.7, 181.0, 180.9, 181.1, 181.0,
    181.2, 181.1, 181.4, 181.2, 181.5, 181.3, 181.6, 181.5, 176.2, 176.6, 176.5, 176.9, 176.8, 177.2, 177.2, 177.6, 177.6, 178.0, 178.0, 178.4,
    178.3, 178.6, 178.5, 175.9, 176.1, 176.0, 176.4, 176.3, 176.7, 176.7, 177.0, 177.0, 174.8, 175.0, 175.1, 175.0, 172.8, 173.0, 173.2, 173.3,
    173.4, 173.6, 173.7, 173.8, 173.9, 173.9, 174.0, 174.1, 174.1, 174.2, 174.1, 171.2, 171.5, 171.9, 172.3, 172.8, 173.3, 173.7, 174.1, 174.5,
    174.8, 172.4, 172.6, 172.7, 172.9, 173.0, 173.2, 173.3, 173.5, 173.5, 173.7, 173.7, 173.9, 174.0, 174.1, 174.2, 174.4, 174.5, 174.6, 174.7,
    174.8, 174.9, 175.1, 175.0, 175.3, 175.2, 175.5, 175.4, 175.7, 175.6, 175.8, 175.7, 176.0, 175.9, 176.1, 176.0, 176.2, 176.2, 176.3, None,
    176.1, 176.4, 176.2, 176.0, 176.5, 176.3, 176.9, 176.6, 176.5, 177.1, 176.9, 176.6, 176.4, 176.1, 176.3, 176.2, 176.4, 176.5, 176.4, 176.6,
    176.6, 176.9, 176.8, 177.1, 176.8, 176.5, 174.8, 174.6, 174.6, 174.3, 174.7, 174.5, 174.9, 174.7, 174.9, 174.7, 174.5, 174.8, 174.5, 174.7,
    175.0, 174.9, 175.2, 175.3, 175.8, 175.7, 176.0, 175.8, 176.1, 175.9, 176.2, 176.0, 176.3, 176.1, 176.4, 176.3, 176.6, 176.5, 176.8, 176.7,
]
G_EXTRA_H = [0.36, 0.45, 0.56, 0.67, 0.84, 0.95, 1.14, 1.34, 1.65, 1.93, 2.07, 2.17, 2.35,
             41.2, 41.35, 42.4, 42.58, 42.66, 42.81, 42.89, 42.97, 43.05, 43.17, 43.28, 43.36, 43.6, 43.8, 43.9, 44.1, 44.35, 44.6, 44.9,
             84.72, 84.85, 85.07, 85.15, 85.27, 85.38, 85.45, 85.6, 85.7, 85.9, 86.0, 86.2, 86.3, 86.4, 86.7, 86.9, 87.1, 93.6]
G_EXTRA_V = [152.9, 155.4, 157.3, 159.6, 163.6, 165.5, 169.4, 171.4, 173.3, 171.7, 170.6, 168.2, 166.4,
             180.0, 177.8, 177.7, 153.3, 155.7, 157.9, 159.8, 161.5, 162.6, 164.6, 166.2, 167.7, 169.5, 171.3, 172.0, 173.0, 174.2, 175.1, 176.0,
             168.4, 172.4, 178.2, 180.5, 182.7, 175.8, 174.4, 177.0, 178.4, 179.6, 179.9, 177.2, 175.1, 176.8, 177.5, 175.1, 176.0, 173.5]

# ---------------- smoother curves ----------------
A_FIT_H = [0.25, 10, 20, 30, 40, 47, 50, 52.7, 55.8, 58.95, 62.1, 65.2, 68.3, 70.6, 73.6, 76.7, 79.85, 83.0, 86.1, 89.0,
           91.4, 92.9, 94.5, 96.05, 97.6, 100.2]
A_FIT_V = [127.6, 127.4, 127.4, 127.4, 127.4, 127.5, 127.7, 128.0, 129.4, 131.3, 133.0, 133.7, 134.2, 134.5, 136.1, 137.5, 138.5, 139.0, 139.4, 139.4,
           139.5, 140.2, 140.9, 141.6, 142.6, 144.0]
B_FIT_H = [0.25, 1.5, 3.0, 4.5, 6.0, 7.5, 9.0, 10.5, 12.0, 15, 20, 30, 40, 50, 60, 70, 80, 90, 100.2]
B_FIT_V = [147.9, 147.6, 147.5, 147.6, 147.9, 148.3, 148.7, 149.0, 149.1, 149.2, 149.2, 149.1, 149.1, 149.1, 149.2, 149.2, 149.2, 149.2, 149.2]
D_FIT_H = [0.25, 1.5, 2.6, 4.0, 5.5, 7.0, 8.5, 10.0, 11.5, 13.0, 14.5, 16.0, 17.5, 19.0, 20.5, 21.9, 22.8, 23.6, 24.4, 25.0,
           25.75, 26.5, 27.3, 28.1, 28.9, 29.6, 30.4, 31.2, 32.0, 32.8, 33.5, 34.3, 35.2, 36.5, 38.1, 39.6, 41.2, 42.7, 44.3, 45.85,
           47.4, 49.0, 50.5, 53.0, 55.8, 57.4, 58.95, 60.5, 62.1, 63.6, 65.2, 66.7, 68.3, 70.0, 71.2, 72.2, 73.6, 75.2, 76.7, 78.3,
           79.8, 81.4, 82.5, 83.7, 86.1, 88.5, 91.4, 94.5, 97.6, 100.2]
D_FIT_V = [136.6, 142.5, 149.0, 155.5, 160.8, 165.0, 168.3, 170.8, 172.9, 174.8, 176.5, 178.0, 179.4, 180.6, 181.4, 181.6, 181.2, 179.9, 177.6, 174.9,
           172.0, 169.6, 167.0, 164.3, 161.9, 160.0, 158.6, 157.4, 156.9, 156.9, 157.1, 157.6, 158.3, 159.5, 161.2, 162.9, 164.6, 165.5, 166.2, 166.7,
           166.9, 167.3, 167.4, 167.7, 167.2, 166.7, 166.5, 166.6, 166.9, 167.4, 167.9, 168.6, 169.1, 169.7, 170.0, 169.8, 168.6, 166.5, 164.3, 162.2,
           160.7, 159.8, 159.8, 160.5, 161.9, 164.1, 166.0, 168.2, 169.4, 170.6]
G_FIT_H = [0.25, 2.5, 5, 7.5, 10, 12.5, 15, 17.5, 20, 22.5, 25, 27.5, 30, 32.5, 34.9, 36.5, 38.1, 39.6, 41.2, 42.7,
           44.3, 45.85, 47.4, 49.0, 50.5, 53.0, 55.8, 58.5, 60.5, 62.1, 63.6, 65.2, 66.7, 68.3, 70.7, 72.8, 75.2, 78.3, 81.4, 84.5,
           88.5, 91.4, 94.5, 97.6, 100.2]
G_FIT_V = [164.3, 165.4, 166.8, 168.3, 169.7, 171.0, 172.5, 173.8, 175.1, 176.4, 177.6, 178.8, 179.8, 180.6, 181.0, 180.6, 179.6, 178.4, 177.2, 176.5,
           176.2, 176.4, 177.2, 178.4, 179.2, 179.6, 180.0, 180.2, 179.9, 179.2, 178.2, 177.0, 176.0, 175.1, 173.9, 173.2, 173.0, 173.9, 174.9, 175.7,
           176.0, 175.8, 175.6, 175.9, 176.4]

# ---------------- build tables ----------------
series = [
    (LABELS[0], A_VALUES, A_VALUES_MID, A_EXTRA_H, A_EXTRA_V, A_FIT_H, A_FIT_V),
    (LABELS[1], B_VALUES, B_VALUES_MID, B_EXTRA_H, B_EXTRA_V, B_FIT_H, B_FIT_V),
    (LABELS[2], D_VALUES, D_VALUES_MID, D_EXTRA_H, D_EXTRA_V, D_FIT_H, D_FIT_V),
    (LABELS[3], G_VALUES, G_VALUES_MID, G_EXTRA_H, G_EXTRA_V, G_FIT_H, G_FIT_V),
]
pt_rows, fit_rows = [], []
for order, (lab, vals, mids, eh, ev, fh, fv) in enumerate(series):
    assert len(vals) == len(HOURS), (lab, "vals", len(vals))
    assert len(mids) == len(HOURS_MID), (lab, "mids", len(mids))
    assert len(eh) == len(ev), (lab, len(eh), len(ev))
    assert len(fh) == len(fv), (lab, len(fh), len(fv))
    rows = [(h, v) for h, v in zip(HOURS, vals) if v is not None]
    rows += [(h, v) for h, v in zip(HOURS_MID, mids) if v is not None]
    rows += list(zip(eh, ev))
    rows.sort()
    for h, v in rows:
        pt_rows.append({"lab": lab, "order": order, "hour": h, "value": v})
    for h, v in zip(fh, fv):
        fit_rows.append({"lab": lab, "hour": h, "value": v})
pts = pd.DataFrame(pt_rows)
fits = pd.DataFrame(fit_rows)

FONT = "Segoe UI, Noto Sans, sans-serif"

x_enc = alt.X(
    "hour:Q",
    scale=alt.Scale(domain=[-0.6, 105.15], nice=False, zero=False),
    axis=alt.Axis(
        title="Test Hour",
        values=list(range(0, 101, 5)),
        labelExpr="datum.value % 20 === 0 ? datum.label : ''",
        tickSize={"condition": {"test": "datum.value % 20 === 0", "value": 7}, "value": 4},
        labelOverlap=False,
        labelPadding=3,
        titleY=30,
        titleBaseline="middle",
    ),
)
y_enc = alt.Y(
    "value:Q",
    scale=alt.Scale(domain=[50, 190], nice=False, zero=False),
    axis=alt.Axis(
        title="EGR Temp at Venturi Inlet",
        values=list(range(50, 191, 10)),
        labelExpr="datum.value % 20 === 0 ? datum.label : ''",
        tickSize={"condition": {"test": "datum.value % 20 === 0", "value": 7}, "value": 4},
        labelOverlap=False,
        labelPadding=3,
        titleX=-56,
        titleY=541,
        titleAngle=270,
        titleAlign="center",
        titleBaseline="middle",
    ),
)
color_scale = alt.Scale(domain=LABELS, range=COLORS)

points = alt.Chart(pts).mark_circle(size=50, opacity=1).encode(
    x=x_enc,
    y=y_enc,
    color=alt.Color(
        "lab:N",
        scale=color_scale,
        legend=alt.Legend(
            title="Lab-OilCon",
            orient="none",
            legendX=2268,
            legendY=14,
            symbolType="circle",
            symbolSize=40,
            symbolOffset=8,
            labelOffset=8,
            rowPadding=5,
            titlePadding=9,
            padding=0,
        ),
    ),
    order=alt.Order("order:Q"),
)
lines = alt.Chart(fits).mark_line(strokeWidth=1.8, interpolate="monotone").encode(
    x="hour:Q",
    y="value:Q",
    color=alt.Color("lab:N", scale=color_scale, legend=None),
)

chart = (
    alt.layer(points, lines)
    .properties(
        width=2261,
        height=1083,
        padding={"left": 67, "top": 1, "right": 173, "bottom": 37},
        autosize=alt.AutoSizeParams(type="none"),
        background="#f7f7f7",
    )
    .configure_view(fill="white", stroke="#ababab", strokeWidth=1.5)
    .configure_axis(
        grid=False,
        domain=False,
        labelFont=FONT,
        labelFontSize=13,
        labelColor="#222222",
        tickColor="#9a9a9a",
        titleFont=FONT,
        titleFontSize=13,
        titleFontWeight="normal",
        titleColor="#222222",
    )
    .configure_legend(
        titleFont=FONT,
        titleFontSize=14,
        titleFontWeight="normal",
        titleColor="#222222",
        labelFont=FONT,
        labelFontSize=14,
        labelColor="#222222",
    )
)

chart.save("out.html", embed_options={"renderer": "svg", "actions": False})
